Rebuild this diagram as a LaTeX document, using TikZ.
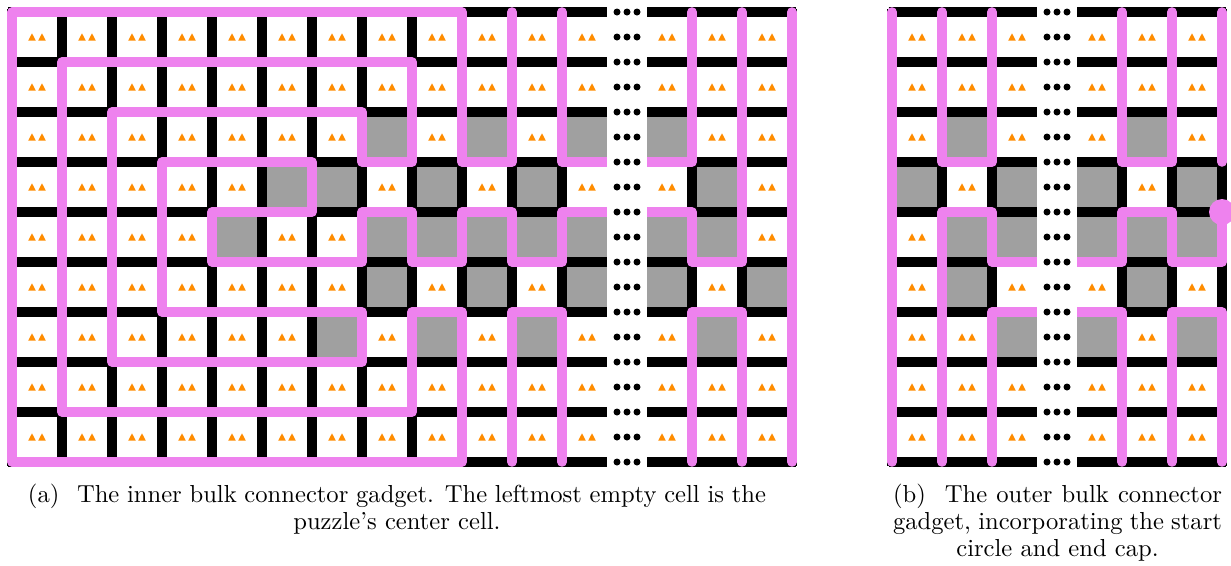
\documentclass[tikz,border=0pt]{standalone}
\usepackage{tikz}
\usetikzlibrary{positioning}
\definecolor{wirepink}{HTML}{EE82EE}
\definecolor{blockgray}{HTML}{A0A0A0}
\definecolor{markorange}{HTML}{FF8C00}
\newcommand{\fullline}[2]{\makebox[#1][s]{#2}}
\tikzset{
  gridline/.style={line width=0.143cm, draw=black},
  wire/.style={line width=0.143cm, draw=wirepink, line cap=round, line join=round},
  blocked/.style={fill=blockgray},
  twinmark/.pic={
    \fill[markorange] (-0.177,0.074) -- (-0.023,0.074) -- (-0.1,-0.074) -- cycle;
    \fill[markorange] (0.023,0.074) -- (0.177,0.074) -- (0.1,-0.074) -- cycle;
  },
  subcap/.style={align=center, inner sep=0pt, anchor=north, font=\fontsize{10.5}{11.5}\selectfont}
}

\begin{document}
\begin{tikzpicture}[x=0.75cm, y=-0.75cm]
  \useasboundingbox (-0.24,-0.24) rectangle (24.38,11.06);
  \foreach \x in {0,1,2,3,4,5,6,7,8,9,10,11,12.6,13.6,14.6,17.6,18.6,19.6,21.2,22.2,23.2}
    \foreach \y in {0,1,2,3,4,5,6,7,8}
      \pic at (\x+0.5,\y+0.5) {twinmark};
  \foreach \x/\y in {7/2,9/2,11/2,12.6/2,
                     5/3,6/3,8/3,10/3,13.6/3,
                     4/4,7/4,8/4,9/4,10/4,11/4,12.6/4,13.6/4,
                     7/5,9/5,11/5,12.6/5,14.6/5,
                     6/6,8/6,10/6,13.6/6,
                     18.6/2,22.2/2,
                     17.6/3,19.6/3,21.2/3,23.2/3,
                     18.6/4,19.6/4,21.2/4,22.2/4,23.2/4,
                     18.6/5,22.2/5,
                     19.6/6,21.2/6,23.2/6}
    \fill[blocked] (\x+0.1,\y+0.1) rectangle (\x+0.9,\y+0.9);
  \foreach \y in {0,1,2,3,4,5,6,7,8,9} {
    \draw[gridline] (-0.07,\y) -- (15.67,\y);
    \draw[gridline] (17.53,\y) -- (24.27,\y);
  }
  \foreach \x in {0,1,2,3,4,5,6,7,8,9,10,11,13.6,14.6,15.6,17.6,18.6,19.6,22.2,23.2,24.2}
    \draw[gridline] (\x,-0.07) -- (\x,9.07);

  \draw[wire] (10,0) -- (10,3) -- (9,3) -- (9,0) -- (0,0) -- (0,9) -- (9,9) -- (9,6) -- (8,6)
    -- (8,8) -- (1,8) -- (1,1) -- (8,1) -- (8,3) -- (7,3) -- (7,2) -- (2,2) -- (2,7) -- (7,7)
    -- (7,6) -- (3,6) -- (3,3) -- (6,3) -- (6,4) -- (4,4) -- (4,5) -- (7,5) -- (7,4) -- (8,4)
    -- (8,5) -- (9,5) -- (9,4) -- (10,4) -- (10,5) -- (11,5) -- (11,4) -- (12,4);
  \draw[wire] (11,0) -- (11,3) -- (12,3);
  \draw[wire] (12.6,3) -- (13.6,3) -- (13.6,0);
  \draw[wire] (12.6,4) -- (13.6,4) -- (13.6,5) -- (14.6,5) -- (14.6,0);
  \draw[wire] (15.6,0) -- (15.6,9);
  \draw[wire] (10,9) -- (10,6) -- (11,6) -- (11,9);
  \draw[wire] (13.6,9) -- (13.6,6) -- (14.6,6) -- (14.6,9);

  \draw[wire] (17.6,0) -- (17.6,9);
  \draw[wire] (18.6,0) -- (18.6,3) -- (19.6,3) -- (19.6,0);
  \draw[wire] (22.2,0) -- (22.2,3) -- (23.2,3) -- (23.2,0);
  \draw[wire] (24.2,0) -- (24.2,3);
  \draw[wire] (24.2,4) -- (24.2,5) -- (23.2,5) -- (23.2,4) -- (22.2,4) -- (22.2,5) -- (21.2,5);
  \fill[wirepink] (24.2,4) circle[radius=0.26];
  \draw[wire] (18.6,9) -- (18.6,4) -- (19.6,4) -- (19.6,5) -- (20.6,5);
  \draw[wire] (20.6,6) -- (19.6,6) -- (19.6,9);
  \draw[wire] (21.2,6) -- (22.2,6) -- (22.2,9);
  \draw[wire] (23.2,9) -- (23.2,6) -- (24.2,6) -- (24.2,9);

  \fill[white] (11.9,-0.2) rectangle (12.7,9.2);
  \fill[white] (20.5,-0.2) rectangle (21.3,9.2);
  \foreach \y in {0,0.5,...,9}
    \foreach \x in {12.1,12.3,12.5,20.7,20.9,21.1}
      \fill (\x,\y) circle[radius=0.07];

  \node[subcap] (capa) at (7.7,9.44) {\fullline{11.07cm}{(a)\hspace{0.4em} The inner bulk connector gadget. The leftmost empty cell is the}\\puzzle's center cell.};
  \node[subcap] (capb) at (20.91,9.44) {\fullline{4.935cm}{(b)\hspace{0.4em} The outer bulk connector}\\\fullline{4.935cm}{gadget, incorporating the start}\\circle and end cap.};
\end{tikzpicture}
\end{document}
